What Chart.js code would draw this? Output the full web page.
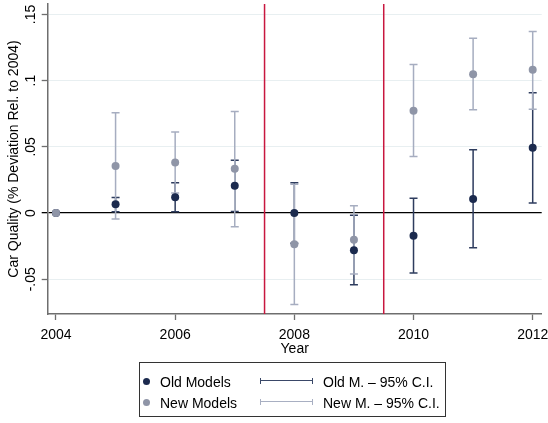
<!DOCTYPE html>
<html lang="en">
<head>
<meta charset="UTF-8">
<title>Car Quality</title>
<script src="https://cdn.jsdelivr.net/npm/chart.js"></script>
<style>
  body { margin: 0; background: #fff; font-family: "Liberation Sans", Arial, sans-serif; }
  #wrap { position: relative; width: 548px; height: 423px; }
  #legend { position: absolute; left: 139px; top: 362px; width: 305px; height: 53px; border: 1px solid #333; }
  .dot { position: absolute; width: 7px; height: 7px; border-radius: 50%; left: 3px; }
  .txt { position: absolute; font-size: 14px; line-height: 16px; color: #000; white-space: nowrap; }
  .ci { position: absolute; left: 120px; width: 51px; height: 6px; border-left: 1.5px solid; border-right: 1.5px solid; }
  .ci::after { content: ""; position: absolute; left: 0; right: 0; top: 2.25px; border-top: 1.5px solid; }
</style>
</head>
<body>
<div id="wrap">
  <canvas id="myChart" width="548" height="423"></canvas>
  <div id="legend">
    <span class="dot" style="top:15px;background:#1b2a4e"></span>
    <span class="txt" style="left:20px;top:11px">Old Models</span>
    <span class="ci" style="top:15px;color:#3a4868"></span>
    <span class="txt" style="left:183px;top:11px">Old M. – 95% C.I.</span>
    <span class="dot" style="top:36px;background:#8f95a7"></span>
    <span class="txt" style="left:20px;top:32px">New Models</span>
    <span class="ci" style="top:36px;color:#a8afc2"></span>
    <span class="txt" style="left:183px;top:32px">New M. – 95% C.I.</span>
  </div>
</div>
<script>
const years = [2004, 2005, 2006, 2007, 2008, 2009, 2010, 2011, 2012];

const oldVals = [0, 0.0067, 0.0119, 0.0206, 0, -0.0281, -0.0171, 0.0107, 0.0494];
const oldLo = [0, 0.0010, 0.0010, 0.0012, -0.0228, -0.0542, -0.0452, -0.0261, 0.0077];
const oldHi = [0, 0.0117, 0.0229, 0.0400, 0.0229, -0.0017, 0.0112, 0.0479, 0.0909];

const newVals = [0, 0.0355, 0.0382, 0.0335, -0.0236, -0.0201, 0.0773, 0.1048, 0.1083];
const newLo = [0, -0.0045, 0.0151, -0.0104, -0.0690, -0.0460, 0.0427, 0.0780, 0.0785];
const newHi = [0, 0.0758, 0.0613, 0.0768, 0.0218, 0.0055, 0.1123, 0.1321, 0.1371];

const xTicks = [2004, 2006, 2008, 2010, 2012];
const yTicks = [-0.05, 0, 0.05, 0.1, 0.15];
const breakYears = [2007.5, 2009.5];

const family = '"Liberation Sans", Arial, sans-serif';
const axisGray = '#6e6e6e';

function fmtY(v) {
    if (v === 0) return '0';
    return (v < 0 ? '-' : '') + String(Math.abs(v)).replace(/^0/, '');
}

// error bars, period lines and rotated y labels
const extras = {
    id: 'extras',
    beforeDatasetsDraw(chart) {
        const {ctx, chartArea, scales: {x, y}} = chart;
        ctx.save();
        ctx.strokeStyle = '#c8173f';
        ctx.lineWidth = 1.5;
        breakYears.forEach(b => {
            const px = x.getPixelForValue(b);
            ctx.beginPath();
            ctx.moveTo(px, chartArea.top);
            ctx.lineTo(px, chartArea.bottom);
            ctx.stroke();
        });
        const drawCI = (lo, hi, color) => {
            ctx.strokeStyle = color;
            ctx.lineWidth = 1.5;
            years.forEach((yr, i) => {
                if (lo[i] === hi[i]) return;
                const px = x.getPixelForValue(yr);
                const p1 = y.getPixelForValue(lo[i]);
                const p2 = y.getPixelForValue(hi[i]);
                ctx.beginPath();
                ctx.moveTo(px, p1); ctx.lineTo(px, p2);
                ctx.moveTo(px - 4, p1); ctx.lineTo(px + 4, p1);
                ctx.moveTo(px - 4, p2); ctx.lineTo(px + 4, p2);
                ctx.stroke();
            });
        };
        drawCI(oldLo, oldHi, '#2e3c5e');
        drawCI(newLo, newHi, '#a6adc0');
        ctx.restore();
    },
    afterDraw(chart) {
        const {ctx, scales: {y}} = chart;
        ctx.save();
        ctx.fillStyle = '#000';
        ctx.font = '14px ' + family;
        ctx.textAlign = 'center';
        ctx.textBaseline = 'middle';
        y.ticks.forEach(t => {
            ctx.save();
            ctx.translate(31, y.getPixelForValue(t.value));
            ctx.rotate(-Math.PI / 2);
            ctx.fillText(fmtY(t.value), 0, 0);
            ctx.restore();
        });
        ctx.restore();
    }
};

const setting = {
    type: 'scatter',
    data: {
        datasets: [{
            label: 'Old Models',
            data: years.map((yr, i) => ({x: yr, y: oldVals[i]})),
            backgroundColor: '#1b2a4e',
            pointRadius: 4,
            pointBorderWidth: 0,
            order: 1
        }, {
            label: 'New Models',
            data: years.map((yr, i) => ({x: yr, y: newVals[i]})),
            backgroundColor: '#8f95a7',
            pointRadius: 4,
            pointBorderWidth: 0,
            order: 0
        }]
    },
    options: {
        responsive: false,
        animation: false,
        layout: {padding: {left: 0, right: 6.3, top: 0, bottom: 65}},
        plugins: {legend: {display: false}, tooltip: {enabled: false}},
        scales: {
            x: {
                type: 'linear',
                min: 2003.861,
                max: 2012.151,
                afterBuildTicks: s => { s.ticks = xTicks.map(v => ({value: v})); },
                afterFit: s => { s.height = 44; s.paddingLeft = 0; s.paddingRight = 0; },
                grid: {drawOnChartArea: false, tickLength: 6, tickColor: axisGray, tickWidth: 1.3},
                border: {color: axisGray, width: 1.5},
                ticks: {color: '#000', font: {size: 14, family: family}, padding: 7, maxRotation: 0,
                        callback: v => String(v)},
                title: {display: true, text: 'Year', color: '#000', font: {size: 14, family: family}, padding: 0}
            },
            y: {
                min: -0.0762,
                max: 0.1579,
                afterBuildTicks: s => { s.ticks = yTicks.map(v => ({value: v})); },
                afterFit: s => { s.width = 47.7; s.paddingTop = 0; s.paddingBottom = 0; },
                grid: {
                    tickLength: 6,
                    color: c => c.tick && c.tick.value === 0 ? '#000' : '#e8eff1',
                    lineWidth: c => c.tick && c.tick.value === 0 ? 1.3 : 1,
                    tickColor: c => c.tick && c.tick.value === 0 ? '#000' : axisGray,
                    tickWidth: 1.3
                },
                border: {color: axisGray, width: 1.5},
                ticks: {display: false},
                title: {display: true, text: 'Car Quality (% Deviation Rel. to 2004)', color: '#000',
                        font: {size: 14, family: family}, padding: {top: 6, bottom: 0}}
            }
        }
    },
    plugins: [extras]
};

new Chart(document.getElementById('myChart'), setting);
</script>
</body>
</html>
